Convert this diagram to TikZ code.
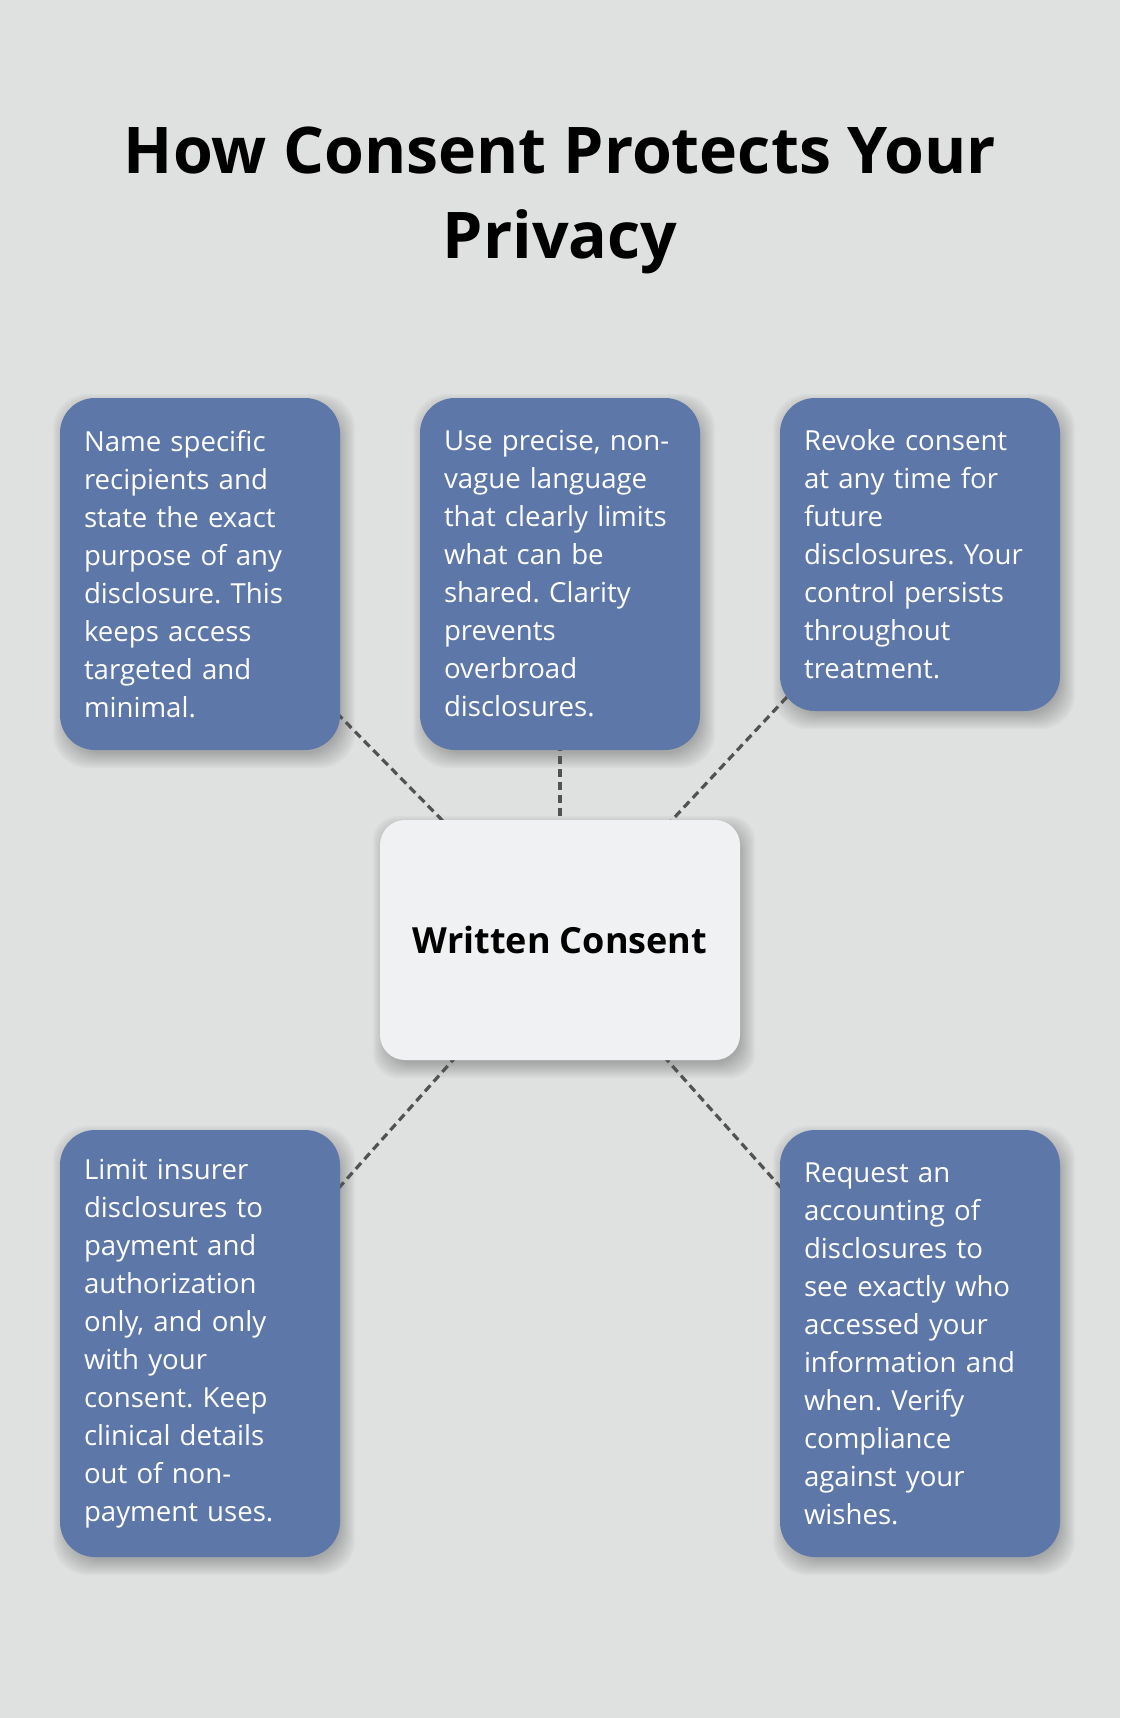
\documentclass[tikz,border=0pt]{standalone}
\usepackage{fontspec}
\setmainfont{Open Sans}
\usepackage{tikz}
\usetikzlibrary{positioning,backgrounds}

\definecolor{pagebg}{HTML}{DFE1E0}
\definecolor{cardblue}{HTML}{5D77A8}
\definecolor{corefill}{HTML}{F0F1F2}
\definecolor{linkgray}{HTML}{525252}

\begin{document}
\frenchspacing
\begin{tikzpicture}[x=1pt, y=-1pt,
    card/.style={fill=cardblue, text=white, rounded corners=35pt,
        text width=232pt, inner xsep=24pt, inner ysep=0pt,
        minimum height=#1, align=left,
        font=\fontsize{27.6}{38}\selectfont},
    core/.style={fill=corefill, rounded corners=25pt,
        minimum width=360pt, minimum height=240pt,
        font=\fontsize{36}{42}\selectfont\bfseries},
    shadowring/.style={fill=black, opacity=0.022},
    link/.style={draw=linkgray, line width=3.2pt, dash pattern=on 8pt off 5pt}]
    \useasboundingbox (0,0) rectangle (1120,1718);

    % Title
    \node [anchor=base, align=center, font=\fontsize{64.4}{85}\selectfont\bfseries]
        (title) at (560,258) {How Consent Protects Your\\Privacy};

    % Centre box
    \node [core] (consent) at (560,940) {Written Consent};

    % Top row
    \node [card=352pt] (recipients) at (200,574) {Name specific\\recipients and\\state the exact\\purpose of any\\disclosure. This\\keeps access\\targeted and\\minimal.};
    \node [card=352pt] (language) at (560,574) {Use precise, non-\\vague language\\that clearly limits\\what can be\\shared. Clarity\\prevents\\overbroad\\disclosures.};
    \node [card=313pt] (revoke) at (920,554.5) {Revoke consent\\at any time for\\future\\disclosures. Your\\control persists\\throughout\\treatment.};

    % Bottom row
    \node [card=427pt] (insurer) at (200,1343.5) {Limit insurer\\disclosures to\\payment and\\authorization\\only, and only\\with your\\consent. Keep\\clinical details\\out of non-\\payment uses.};
    \node [card=427pt] (accounting) at (920,1343.5) {Request an\\accounting of\\disclosures to\\see exactly who\\accessed your\\information and\\when. Verify\\compliance\\against your\\wishes.};

    % Page, soft shadows and dashed links behind the boxes
    \begin{pgfonlayer}{background}
        \fill [pagebg] (0,0) rectangle (1120,1718);
        \foreach \card/\rad in {recipients/35pt, language/35pt, revoke/35pt, insurer/35pt, accounting/35pt, consent/25pt} {
            \foreach \e in {-4,-2.5,...,12} {
                \fill [shadowring, rounded corners=\rad]
                    ([shift={(4-\e,7-\e)}]\card.north west) rectangle ([shift={(4+\e,7+\e)}]\card.south east);
            }
        }
        \foreach \card in {recipients, language, revoke, insurer, accounting} {
            \draw [link] (\card.center) -- (consent.center);
        }
    \end{pgfonlayer}
\end{tikzpicture}
\end{document}
